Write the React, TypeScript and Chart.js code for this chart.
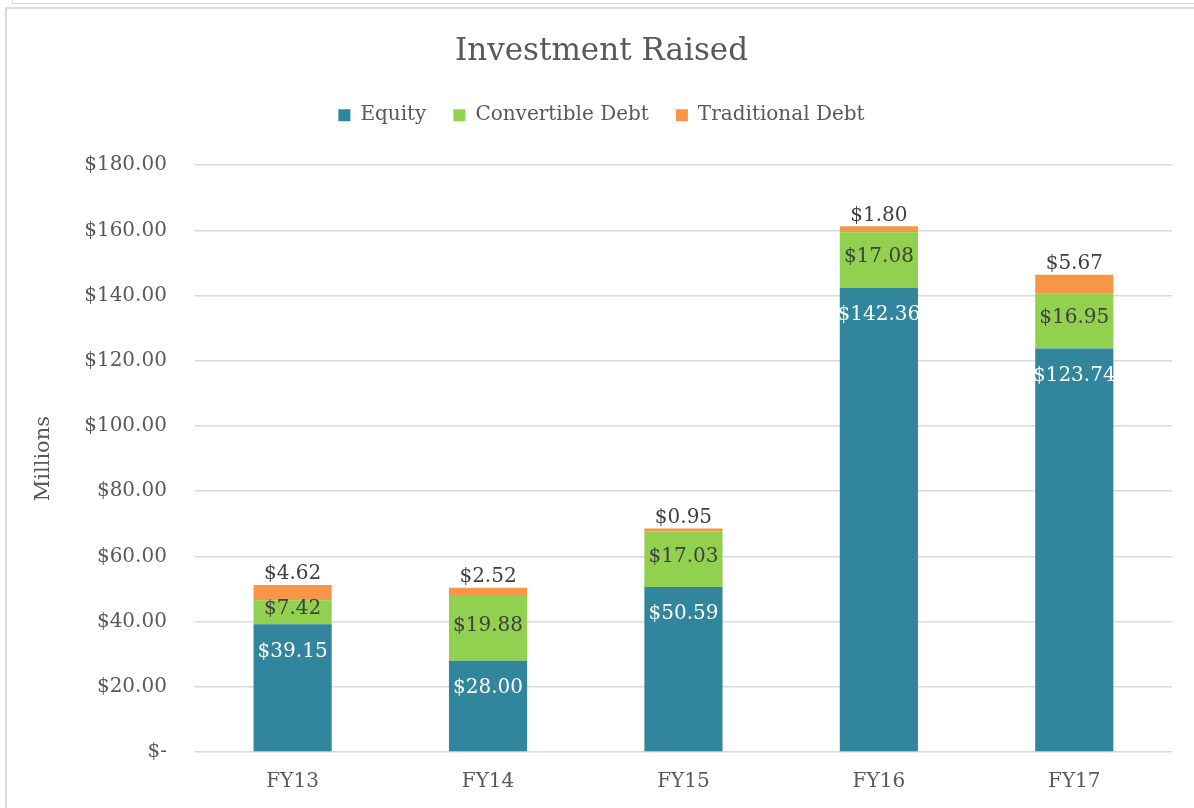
import React, { useEffect, useRef } from "react";
import { Chart, registerables } from "chart.js";

Chart.register(...registerables);

const categories = ["FY13", "FY14", "FY15", "FY16", "FY17"];
const equity = [39.15, 28.0, 50.59, 142.36, 123.74];
const convertible = [7.42, 19.88, 17.03, 17.08, 16.95];
const traditional = [4.62, 2.52, 0.95, 1.8, 5.67];
const seriesNames = ["Equity", "Convertible Debt", "Traditional Debt"];
const yTicks = [0, 20, 40, 60, 80, 100, 120, 140, 160, 180];

const FONT = "'DejaVu Serif', serif";
const fmt = (v: number) => (v === 0 ? "$-" : "$" + v.toFixed(2));

const labelPlugin = {
  id: "barLabels",
  afterDatasetsDraw(chart: any) {
    const ctx = chart.ctx;
    ctx.save();
    ctx.font = `20px ${FONT}`;
    ctx.textAlign = "center";
    ctx.textBaseline = "middle";
    chart.data.datasets.forEach((ds: any, di: number) => {
      const meta = chart.getDatasetMeta(di);
      meta.data.forEach((el: any, i: number) => {
        const v = ds.data[i];
        const txt = "$" + v.toFixed(2);
        const top = Math.min(el.y, el.base);
        const bot = Math.max(el.y, el.base);
        if (di === 0) {
          ctx.fillStyle = "#ffffff";
          ctx.fillText(txt, el.x, top + 27);
        } else if (di === 1) {
          ctx.fillStyle = "#404040";
          ctx.fillText(txt, el.x, (top + bot) / 2 - 3);
        } else {
          ctx.fillStyle = "#404040";
          ctx.fillText(txt, el.x, top - 11);
        }
      });
    });
    ctx.restore();
  },
};

const legendSpacePlugin = {
  id: "legendSpace",
  beforeInit(chart: any) {
    const legend = chart.legend;
    if (legend && !legend._patched) {
      const orig = legend.fit;
      legend.fit = function (this: any) {
        orig.call(this);
        this.height += 30;
      };
      legend._patched = true;
    }
  },
};

export default function App() {
  const ref = useRef<HTMLCanvasElement>(null);
  useEffect(() => {
    if (!ref.current) return;
    const chart = new Chart(ref.current, {
      type: "bar",
      data: {
        labels: categories,
        datasets: [
          { label: seriesNames[0], data: equity, backgroundColor: "#31859C" },
          { label: seriesNames[1], data: convertible, backgroundColor: "#92D050" },
          { label: seriesNames[2], data: traditional, backgroundColor: "#F79646" },
        ],
      },
      options: {
        animation: false,
        responsive: false,
        maintainAspectRatio: false,
        layout: { padding: { left: 31, right: 22, top: 28, bottom: 4 } },
        datasets: { bar: { barPercentage: 0.4, categoryPercentage: 1 } },
        plugins: {
          title: {
            display: true,
            text: "Investment Raised",
            color: "#595959",
            font: { family: FONT, size: 31, weight: "normal" },
            padding: { top: 5, bottom: 8 },
          },
          legend: {
            display: true,
            position: "top",
            labels: {
              color: "#595959",
              font: { family: FONT, size: 20 },
              boxWidth: 12,
              boxHeight: 12,
              padding: 27,
            },
          },
          tooltip: { enabled: false },
        },
        scales: {
          x: {
            stacked: true,
            grid: { display: false },
            border: { display: false },
            ticks: { color: "#595959", font: { family: FONT, size: 20 }, padding: 10 },
          },
          y: {
            stacked: true,
            min: 0,
            max: 180,
            afterBuildTicks: (axis: any) => {
              axis.ticks = yTicks.map((v) => ({ value: v }));
            },
            grid: { color: "#d9d9d9", lineWidth: 1.5, drawTicks: false },
            border: { display: false },
            ticks: {
              color: "#595959",
              font: { family: FONT, size: 20 },
              padding: 28,
              callback: (v: any) => fmt(Number(v)),
            },
            title: {
              display: true,
              text: "Millions",
              color: "#595959",
              font: { family: FONT, size: 21 },
              padding: { top: 0, bottom: 0 },
            },
          },
        },
      },
      plugins: [legendSpacePlugin, labelPlugin],
    });
    return () => chart.destroy();
  }, []);
  return (
    <div style={{ position: "fixed", left: 0, top: 0, width: 1194, height: 808, background: "#fff", overflow: "hidden" }}>
      <div style={{ position: "absolute", left: 12, top: -10, width: 1200, height: 12, border: "1.5px solid #d9d9d9" }} />
      <div style={{ position: "absolute", left: 5, top: 7, width: 1200, height: 820, border: "2px solid #d9d9d9" }} />
      <canvas ref={ref} width={1194} height={808} style={{ position: "absolute", left: 0, top: 0 }} />
    </div>
  );
}
